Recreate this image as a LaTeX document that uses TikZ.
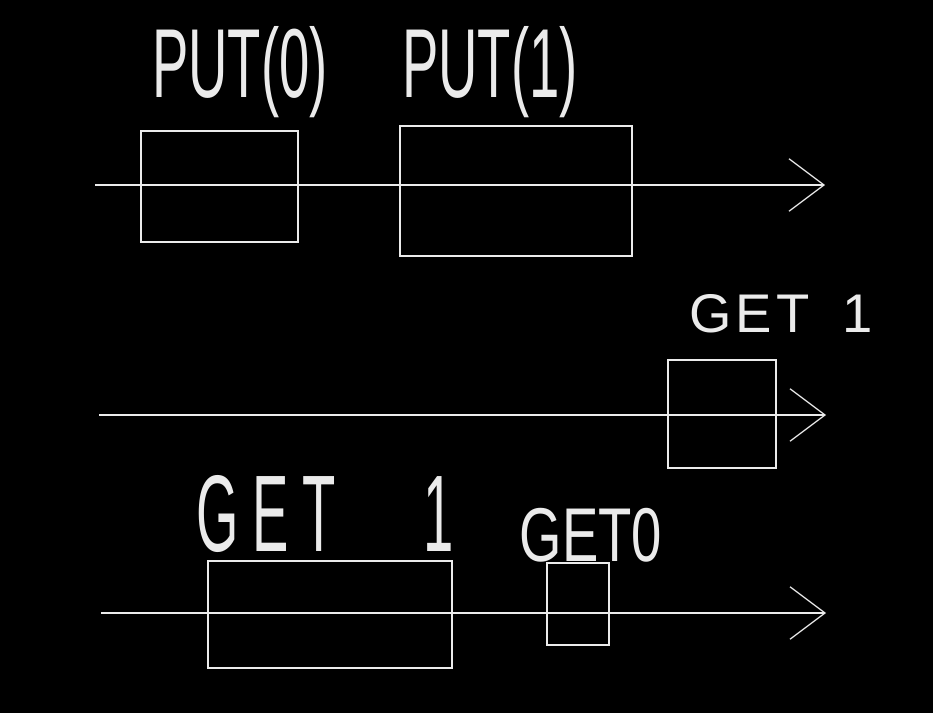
\documentclass[tikz,border=0pt]{standalone}
\usepackage{fontspec}
\usepackage{graphicx}
\setmainfont{Liberation Sans}
\usetikzlibrary{arrows.meta}
\tikzset{
  chalk/.style={draw=white!92!black, line width=0.7pt},
  timeline/.style={chalk, -{Straight Barb[length=0.7cm, width=1.05cm, line width=0.7pt]}},
  label/.style={text=white!92!black, inner sep=0pt, font=\fontsize{31}{31}\selectfont}
}
\begin{document}
\begin{tikzpicture}[x=0.02cm, y=-0.02cm]
  \path[fill=black] (0,0) rectangle (933,713);
  % timelines
  \coordinate (a0) at (95,185);  \coordinate (a1) at (825,185);
  \coordinate (b0) at (99,415);  \coordinate (b1) at (826,415);
  \coordinate (c0) at (101,613); \coordinate (c1) at (826,613);
  \draw[timeline] (a0) -- (a1);
  \draw[timeline] (b0) -- (b1);
  \draw[timeline] (c0) -- (c1);
  % operations
  \draw[chalk] (141,131) rectangle (298,242);
  \draw[chalk] (400,126) rectangle (632,256);
  \draw[chalk] (668,360) rectangle (776,468);
  \draw[chalk] (208,561) rectangle (452,668);
  \draw[chalk] (547,563) rectangle (609,645);
  \node[label] (put0) at (240,72) {\scalebox{1}[1.8]{PUT(0)}};
  \node[label] (put1) at (490,72) {\scalebox{1}[1.8]{PUT(1)}};
  \node[label] (get1a) at (781,314) {G\hspace{0.08em}E\hspace{0.08em}T\hspace{0.6em}1};
  \node[label] (get1b) at (325,514) {\scalebox{1}[2.0]{G\hspace{0.25em}E\hspace{0.25em}T\hspace{1.6em}1}};
  \node[label] (get0) at (591,535) {\scalebox{1}[1.4]{GET0}};
\end{tikzpicture}
\end{document}
